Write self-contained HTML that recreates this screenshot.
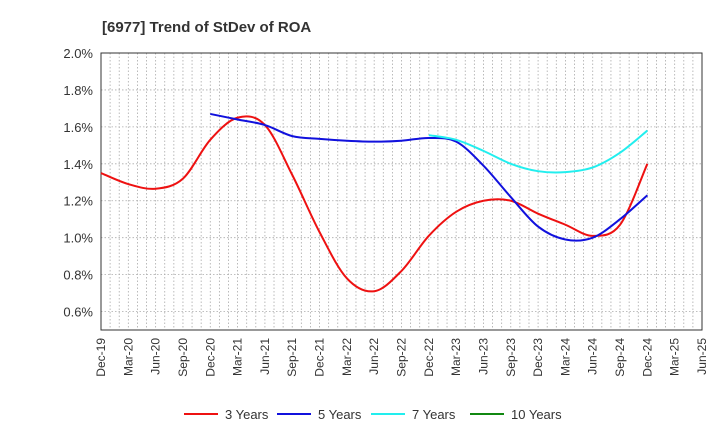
<!DOCTYPE html>
<html><head><meta charset="utf-8"><style>
body{margin:0;background:#fff;font-family:"Liberation Sans",sans-serif;}
svg text{font-family:"Liberation Sans",sans-serif;}
</style></head><body>
<svg id="chart" width="720" height="440">
<text x="102" y="32" font-size="15" font-weight="bold" fill="#333">[6977]  Trend of StDev of ROA</text>
<g id="grid"></g><g id="axes"></g><g id="series"></g><g id="legend"></g>
</svg>
<script>
const xLabels=["Dec-19","Mar-20","Jun-20","Sep-20","Dec-20","Mar-21","Jun-21","Sep-21","Dec-21","Mar-22","Jun-22","Sep-22","Dec-22","Mar-23","Jun-23","Sep-23","Dec-23","Mar-24","Jun-24","Sep-24","Dec-24","Mar-25","Jun-25"];
const yTicks=[0.6,0.8,1.0,1.2,1.4,1.6,1.8,2.0];
const s3start=0;
const s3=[1.35,1.29,1.265,1.32,1.53,1.65,1.61,1.34,1.03,0.78,0.71,0.82,1.01,1.14,1.20,1.20,1.13,1.07,1.01,1.07,1.40];
const s5start=4;
const s5=[1.67,1.64,1.61,1.55,1.535,1.525,1.52,1.525,1.54,1.52,1.39,1.22,1.06,0.99,1.00,1.10,1.23];
const s7start=12;
const s7=[1.555,1.53,1.47,1.40,1.36,1.355,1.38,1.46,1.58];
const s10start=0;
const s10=[];
const L=101,R=702,T=53,B=330,yMin=0.5,yMax=2.0;
const xq=i=>L+(R-L)*i/22;
const y=v=>B-(v-yMin)/(yMax-yMin)*(B-T);
const NS="http://www.w3.org/2000/svg";
function mk(p,t,a){const e=document.createElementNS(NS,t);for(const k in a)e.setAttribute(k,a[k]);p.appendChild(e);return e;}
const grid=document.getElementById('grid'),axes=document.getElementById('axes'),ser=document.getElementById('series'),leg=document.getElementById('legend');
for(let m=1;m<66;m++){const x=L+(R-L)*m/66;const l=mk(grid,'line',{x1:x,x2:x,y1:T,y2:B,stroke:'#aaa','stroke-dasharray':'1.5,2','stroke-width':0.8});

}
yTicks.forEach(v=>{const l=mk(grid,'line',{x1:L,x2:R,y1:y(v),y2:y(v),stroke:'#aaa','stroke-dasharray':'1.5,2','stroke-width':0.8});


const t=mk(axes,'text',{x:L-8,y:y(v)+5,'text-anchor':'end','font-size':13,fill:'#333'});


t.textContent=v.toFixed(1)+'%';});
const fr=mk(axes,'rect',{x:L,y:T,width:R-L,height:B-T,fill:'none',stroke:'#333','stroke-width':1});


xLabels.forEach((s,i)=>{const x=xq(i);const t=mk(axes,'text',{x:0,y:0,transform:`translate(${x+4},${B+8}) rotate(-90)`,'text-anchor':'end','font-size':12,fill:'#333'});


t.textContent=s;});
function path(st,vals){const p=vals.map((v,i)=>[xq(st+i),y(v)]);if(p.length<2)return '';let d=`M${p[0][0]},${p[0][1]}`;
for(let i=0;i<p.length-1;i++){const p0=p[i-1]||p[i],p1=p[i],p2=p[i+1],p3=p[i+2]||p2;
d+=` C${p1[0]+(p2[0]-p0[0])/6},${p1[1]+(p2[1]-p0[1])/6} ${p2[0]-(p3[0]-p1[0])/6},${p2[1]-(p3[1]-p1[1])/6} ${p2[0]},${p2[1]}`;}return d;}
const series=[["3 Years","#ee1111",s3start,s3],["5 Years","#1111dd",s5start,s5],["7 Years","#22eeee",s7start,s7],["10 Years","#118811",s10start,s10]];
series.forEach(([n,c,st,v],k)=>{if(v.length>1){const p=mk(ser,'path',{d:path(st,v),fill:'none',stroke:c,'stroke-width':2});

}
const lx=[184,277,371,470][k];
const g=mk(leg,'g',{});


mk(g,'line',{x1:lx,x2:lx+34,y1:414,y2:414,stroke:c,'stroke-width':2});
const t=mk(g,'text',{x:lx+41,y:419,'font-size':13,fill:'#333'});t.textContent=n;});
</script>
</body></html>
